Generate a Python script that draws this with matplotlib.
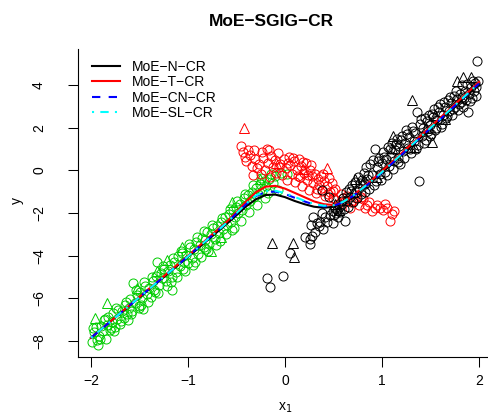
import matplotlib
matplotlib.use("Agg")
import matplotlib.pyplot as plt

plt.rcParams['font.family'] = ['Liberation Sans', 'DejaVu Sans']

# green group (circles)
green_x = [-1.99, -1.97, -1.95, -1.94, -1.93, -1.92, -1.90, -1.88, -1.87, -1.85, -1.83, -1.82, -1.80, -1.78,
           -1.77, -1.76, -1.75, -1.73, -1.72, -1.70, -1.68, -1.66, -1.65, -1.63, -1.62, -1.61, -1.60, -1.58,
           -1.57, -1.55, -1.53, -1.51, -1.49, -1.48, -1.47, -1.46, -1.44, -1.42, -1.40, -1.38, -1.36, -1.35,
           -1.34, -1.33, -1.32, -1.30, -1.28, -1.27, -1.25, -1.23, -1.21, -1.19, -1.18, -1.17, -1.16, -1.14,
           -1.12, -1.10, -1.08, -1.06, -1.05, -1.04, -1.02, -1.00, -0.98, -0.96, -0.94, -0.93, -0.92, -0.90,
           -0.88, -0.86, -0.84, -0.82, -0.81, -0.80, -0.78, -0.76, -0.74, -0.72, -0.70, -0.68, -0.67, -0.66,
           -0.64, -0.62, -0.60, -0.58, -0.56, -0.55, -0.54, -0.52, -0.50, -0.48, -0.46, -0.44, -0.42, -0.40,
           -0.38, -0.36, -0.34, -0.32, -0.30, -0.28, -0.26, -0.24, -0.22, -0.20, -0.18, -0.16, -0.14, -0.12,
           -0.10, -0.07, -0.04, 0.02,
           -1.98, -1.91, -1.86, -1.79, -1.74, -1.69, -1.64, -1.59, -1.54, -1.50, -1.45, -1.41, -1.37, -1.31,
           -1.26, -1.22, -1.15, -1.11, -1.07, -1.03, -0.99, -0.95, -0.91, -0.87, -0.83, -0.79, -0.75, -0.71,
           -0.65, -0.61, -0.57, -0.53, -0.49, -0.45, -0.41, -0.37, -0.33, -0.29, -0.25, -0.21]
green_y = [-8.05, -7.60, -7.35, -7.95, -8.20, -7.75, -7.30, -7.55, -7.00, -7.90, -7.25, -6.85, -7.50, -7.10,
           -6.70, -7.55, -7.35, -6.95, -6.55, -7.20, -6.60, -6.90, -6.30, -6.75, -7.00, -6.45, -6.05, -6.60,
           -5.30, -6.20, -5.85, -6.35, -5.70, -6.30, -6.00, -6.50, -5.40, -5.80, -5.50, -5.95, -5.20, -5.60,
           -5.70, -4.95, -4.30, -5.35, -4.80, -5.05, -4.60, -5.20, -4.70, -4.45, -5.25, -5.00, -5.60, -4.30,
           -4.75, -4.00, -4.50, -3.85, -4.60, -4.30, -3.95, -4.35, -3.60, -4.10, -3.70, -4.30, -3.35, -3.90,
           -3.50, -3.15, -3.60, -3.25, -3.70, -2.90, -3.45, -3.00, -2.70, -3.20, -2.60, -2.95, -3.30, -2.40,
           -2.75, -2.20, -2.55, -2.05, -2.40, -2.80, -1.85, -2.20, -1.70, -2.00, -1.55, -1.85, -1.30, -1.60,
           -1.15, -1.45, -1.00, -1.25, -0.80, -1.10, -0.65, -0.95, -0.50, -0.75, -1.05, -0.40, -0.15, -0.60,
           -0.25, -0.90, -0.10, -0.15,
           -7.40, -7.90, -6.95, -7.40, -6.45, -7.05, -6.15, -6.75, -5.60, -6.45, -5.25, -6.15, -5.00, -5.75,
           -4.50, -5.40, -4.10, -5.00, -3.80, -4.70, -3.45, -4.45, -3.10, -4.05, -2.85, -3.80, -2.55, -3.50,
           -2.25, -3.00, -1.80, -2.70, -1.45, -2.35, -1.10, -1.95, -0.70, -1.60, -0.35, -1.30]
# green outliers (triangles)
green_tx = [-1.96, -1.84, -1.53, -1.32, -1.22, -1.06, -0.76, -0.66, -0.55, -0.26]
green_ty = [-6.90, -6.20, -5.50, -4.70, -4.20, -3.60, -3.80, -3.10, -1.50, -0.42]

# red group
red_x = [-0.45, -0.43, -0.40, -0.38, -0.36, -0.34, -0.33, -0.31, -0.29, -0.27, -0.25, -0.23, -0.21, -0.19,
         -0.17, -0.15, -0.14, -0.12, -0.10, -0.09, -0.07, -0.05, -0.03, -0.01, 0.01, 0.02, 0.04, 0.05, 0.07,
         0.09, 0.10, 0.12, 0.14, 0.15, 0.17, 0.18, 0.20, 0.22, 0.23, 0.25, 0.26, 0.28, 0.29, 0.31, 0.32, 0.34,
         0.35, 0.37, 0.38, 0.40, 0.41, 0.43, 0.45, 0.46, 0.48, 0.50, 0.52, 0.55, 0.58, 0.62, 0.64, 0.67, 0.70,
         0.73, 0.76, 0.80, 0.83, 0.87, 0.90, 0.95, 0.98, 1.01, 1.05, 1.10, 1.08, 1.12,
         -0.41, -0.32, -0.24, -0.16, -0.06, 0.03, 0.08, 0.13, 0.19, 0.24, 0.27, 0.33, 0.39, 0.44, 0.49,
         0.53, 0.60, 0.68, 0.78, 0.85, 0.93, 1.03]
red_y = [1.15, 0.85, 0.45, 0.95, 0.75, 0.20, -0.20, 0.55, 0.10, 0.30, -0.15, 0.60, 0.00, 1.00,
         0.35, -0.30, 0.70, 0.15, 0.50, -0.10, 0.80, 0.30, -0.20, 0.55, 0.10, -0.45, 0.65, 0.25, -0.15,
         0.45, -0.55, 0.00, 0.55, -0.30, 0.20, -0.75, -0.10, 0.35, -0.45, -0.90, 0.00, -0.25, -0.60, -0.15,
         -1.05, -0.40, -0.70, -0.25, -0.95, -0.50, -1.20, -0.75, -0.35, -1.00, -0.60, -1.30, -0.85, -1.55,
         -1.10, -1.45, -1.20, -1.75, -1.45, -1.30, -1.60, -1.35, -1.75, -1.50, -1.90, -1.60, -1.75, -1.85,
         -1.75, -2.05, -2.35, -1.90,
         0.65, 0.95, 0.85, 0.95, 0.15, 0.35, 0.60, -0.25, 0.40, -0.20, 0.25, -0.85, -0.15, -1.10, -0.95,
         -1.40, -1.30, -1.50, -1.25, -1.60, -1.75, -1.55]
red_tx = [-0.42, -0.09, 0.19, 0.43]
red_ty = [2.00, 0.37, 0.05, 0.14]

# black group
black_x = [-0.19, -0.15, -0.02, 0.05, 0.21, 0.26, 0.26, 0.27, 0.28, 0.29, 0.31, 0.33, 0.35, 0.36, 0.38,
           0.38, 0.39, 0.41, 0.43, 0.45, 0.46, 0.49, 0.62,
           0.50, 0.51, 0.52, 0.53, 0.54, 0.55, 0.56, 0.57, 0.58, 0.60, 0.61, 0.63, 0.64, 0.66, 0.67, 0.69,
           0.70, 0.72, 0.73, 0.75, 0.76, 0.78, 0.79, 0.81, 0.82, 0.84, 0.85, 0.87, 0.88, 0.90, 0.91, 0.93,
           0.94, 0.95, 0.97, 0.98, 1.00, 1.01, 1.03, 1.04, 1.06, 1.07, 1.09, 1.10, 1.12, 1.13, 1.15, 1.16,
           1.18, 1.19, 1.21, 1.22, 1.24, 1.25, 1.27, 1.28, 1.30, 1.31, 1.33, 1.34, 1.36, 1.37, 1.38, 1.39,
           1.41, 1.42, 1.44, 1.45, 1.47, 1.48, 1.50, 1.51, 1.53, 1.54, 1.56, 1.57, 1.59, 1.60, 1.62, 1.63,
           1.65, 1.66, 1.68, 1.69, 1.71, 1.72, 1.74, 1.75, 1.77, 1.78, 1.80, 1.81, 1.83, 1.84, 1.86, 1.87,
           1.89, 1.90, 1.92, 1.93, 1.95, 1.96, 1.97, 1.98, 1.99,
           0.59, 0.65, 0.68, 0.74, 0.77, 0.83, 0.86, 0.92, 0.96, 0.99, 1.02, 1.05, 1.08, 1.11, 1.14, 1.17,
           1.20, 1.23, 1.26, 1.29, 1.32, 1.35, 1.40, 1.43, 1.46, 1.49, 1.52, 1.55, 1.58, 1.61, 1.64, 1.67,
           1.70, 1.73, 1.76, 1.79, 1.82, 1.85, 1.88, 1.91, 1.94, 1.97]
black_y = [-5.05, -5.45, -4.95, -3.85, -3.10, -3.45, -3.20, -2.55, -3.05, -2.20, -2.90, -2.45, -2.60, -2.40, -1.98,
           -0.90, -2.75, -2.20, -2.40, -1.25, -2.10, -2.45, -2.38,
           -1.90, -2.10, -1.75, -2.00, -1.85, -2.20, -1.70, -1.95, -1.60, -1.30, -1.80, -1.00, -1.45, -0.85,
           -1.25, -0.70, -1.50, -0.55, -1.00, -0.30, -0.80, -1.10, -0.45, -0.10, -0.65, 0.15, -0.40, -0.85,
           0.30, -0.20, 0.50, 1.00, -0.50, 0.15, 0.60, -0.15, 0.35, 0.85, -0.05, 0.55, 1.10, 0.20, 0.70, 1.30,
           0.45, 0.95, 1.50, 0.60, 1.15, 0.30, 1.60, 0.90, 1.30, 1.90, 1.05, 1.55, 0.80, 2.05, 1.40, 1.75,
           2.75, 1.20, -0.50, 2.20, 1.60, 2.00, 2.45, 1.45, 1.85, 2.60, 2.15, 1.70, 2.50, 2.90, 2.00, 2.35,
           2.75, 3.10, 2.20, 2.60, 3.00, 2.45, 3.30, 2.80, 3.15, 2.60, 3.50, 3.00, 3.35, 2.85, 3.60, 3.20,
           3.45, 3.00, 3.75, 3.30, 2.75, 3.60, 3.90, 3.40, 3.75, 4.10, 3.50, 5.15, 4.20,
           -1.45, -1.70, -0.95, -1.30, -0.60, -1.00, -0.20, -0.70, 0.45, -0.45, 0.65, -0.20, 1.00, 0.05, 1.25, 0.40,
           1.45, 0.60, 1.70, 1.00, 1.85, 1.00, 2.40, 1.30, 2.30, 1.60, 2.65, 1.90, 3.00, 2.05, 3.20, 2.55,
           3.45, 2.90, 3.75, 3.10, 4.00, 3.40, 4.05, 3.25, 4.20, 3.90]
black_tx = [-0.13, 0.08, 0.09, 0.52, 0.56, 0.70, 0.72, 0.80, 0.95, 1.10, 1.11, 1.31, 1.33, 1.45, 1.52,
            1.55, 1.65, 1.77, 1.84, 1.92]
black_ty = [-3.38, -3.38, -4.05, -1.55, -1.85, -1.00, -0.40, -0.55, -0.30, 1.05, 1.60, 3.33, 1.10, 2.00,
            1.35, 2.60, 2.40, 4.20, 4.40, 4.40]

# fitted mean curves
curve_x = [-2.0, -1.0, -0.6, -0.5, -0.4, -0.3, -0.2, -0.1, 0.0, 0.1, 0.2, 0.3, 0.4, 0.5, 0.6, 0.7,
           0.8, 0.9, 1.0, 1.5, 2.0]
n_cr = [-7.85, -4.05, -2.50, -2.10, -1.68, -1.35, -1.15, -1.13, -1.25, -1.43, -1.58, -1.70, -1.75, -1.70,
        -1.50, -1.20, -0.85, -0.48, -0.10, 1.95, 4.05]
t_cr = [-7.85, -4.00, -2.40, -1.95, -1.45, -1.02, -0.76, -0.72, -0.85, -1.05, -1.25, -1.45, -1.58, -1.62,
        -1.48, -1.18, -0.80, -0.43, -0.03, 2.05, 4.15]
cn_cr = [-7.85, -4.03, -2.45, -2.02, -1.58, -1.20, -1.01, -0.99, -1.10, -1.28, -1.45, -1.60, -1.68, -1.66,
         -1.48, -1.20, -0.85, -0.48, -0.10, 1.98, 4.08]
sl_cr = [-7.85, -4.03, -2.45, -2.00, -1.55, -1.17, -0.97, -0.95, -1.06, -1.24, -1.42, -1.57, -1.65, -1.63,
         -1.47, -1.18, -0.83, -0.46, -0.07, 2.00, 4.10]

fig = plt.figure(figsize=(4.88, 4.16), dpi=100)
ax = fig.add_axes([78/488, 1 - 357/416, 1 - 78/488, 308/416])

green = '#00CD00'
mk = dict(linestyle='none', markerfacecolor='none', markeredgewidth=0.7)
ax.plot(green_x, green_y, 'o', color=green, markersize=6.5, **mk)
ax.plot(green_tx, green_ty, '^', color=green, markersize=7.5, **mk)
ax.plot(red_x, red_y, 'o', color='red', markersize=6.5, **mk)
ax.plot(red_tx, red_ty, '^', color='red', markersize=7.5, **mk)
ax.plot(black_x, black_y, 'o', color='black', markersize=6.5, **mk)
ax.plot(black_tx, black_ty, '^', color='black', markersize=7.5, **mk)

ax.plot(curve_x, n_cr, color='black', lw=1.5, label='MoE\u2212N\u2212CR')
ax.plot(curve_x, t_cr, color='red', lw=1.5, label='MoE\u2212T\u2212CR')
ax.plot(curve_x, cn_cr, color='blue', lw=1.5, dashes=(4, 4), label='MoE\u2212CN\u2212CR')
ax.plot(curve_x, sl_cr, color='cyan', lw=1.5, dashes=(1, 3, 4, 3), label='MoE\u2212SL\u2212CR')

ax.set_xlim(-2.134, 2.093)
ax.set_ylim(-8.75, 5.7)
ax.set_xticks([-2, -1, 0, 1, 2])
ax.set_xticklabels(['\u22122', '\u22121', '0', '1', '2'])
ax.set_yticks([-8, -6, -4, -2, 0, 2, 4])
ax.set_yticklabels(['\u22128', '\u22126', '\u22124', '\u22122', '0', '2', '4'], rotation=90, va='center')
ax.spines['top'].set_visible(False)
ax.spines['right'].set_visible(False)
ax.tick_params(axis='x', length=7, width=0.75, pad=5, labelsize=10)
ax.tick_params(axis='y', length=7, width=0.75, pad=16, labelsize=10)

fig.text(285/488, 1 - 408/416, 'x$_1$', ha='center', va='center', fontsize=10)
fig.text(17/488, 1 - 200/416, 'y', ha='center', va='center', rotation=90, fontsize=10)
fig.text(271/488, 1 - 21/416, 'MoE\u2212SGIG\u2212CR', ha='center', va='center',
         fontsize=12.5, fontweight='bold')

ax.legend(loc='upper left', bbox_to_anchor=(0.034, 0.965), frameon=False, fontsize=10,
          borderpad=0, borderaxespad=0, handlelength=2.0, handletextpad=0.9, labelspacing=0.1)

fig.savefig('out.png', dpi=100)
